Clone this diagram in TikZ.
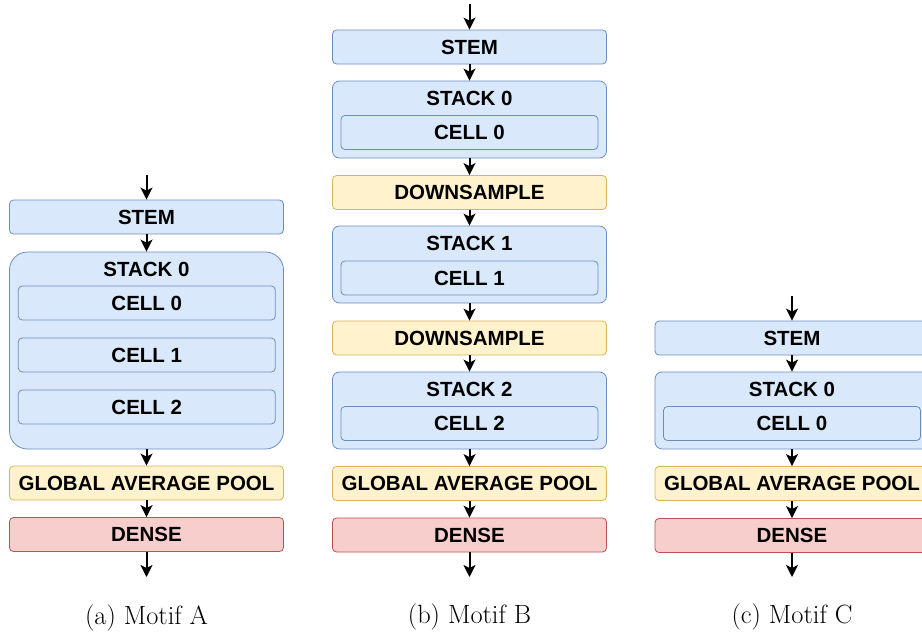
\documentclass[tikz,border=0pt]{standalone}
\usepackage{fontspec}
\newfontfamily\boxfont{Liberation Sans}
\usetikzlibrary{arrows.meta, positioning}
\definecolor{opblue}{HTML}{DAE8FC}
\definecolor{opblueline}{HTML}{6C8EBF}
\definecolor{opyellow}{HTML}{FFF2CC}
\definecolor{opyellowline}{HTML}{D6B656}
\definecolor{opred}{HTML}{F8CECC}
\definecolor{opredline}{HTML}{B85450}

\tikzset{
  layer/.style={rounded corners=4pt, line width=0.8pt, minimum width=274pt, minimum height=34pt, inner sep=0pt, font=\boxfont\bfseries\fontsize{20.5}{23}\selectfont},
  bluebox/.style={layer, draw=opblueline, fill=opblue},
  yellowbox/.style={layer, draw=opyellowline, fill=opyellow},
  redbox/.style={layer, draw=opredline, fill=opred},
  cellbox/.style={bluebox, minimum width=257pt},
  stackbox/.style={bluebox, minimum height=77pt, rounded corners=7pt},
  stacklabel/.style={inner sep=0pt, font=\boxfont\bfseries\fontsize{20.5}{23}\selectfont},
  flow/.style={-{Stealth[length=12pt, width=12pt, inset=3pt]}, line width=2pt},
  caption/.style={font=\fontsize{26.4}{30}\selectfont}
}

\begin{document}
\begin{tikzpicture}[x=1pt, y=-1pt]
  \useasboundingbox (0,0) rectangle (922,635);
  \clip (0,0) rectangle (922,635);

  % (a) Motif A
  \coordinate (a-in) at (146.5,175);
  \node[bluebox] (a-stem) at (146.5,217) {STEM};
  \node[stackbox, minimum height=197pt, rounded corners=18pt] (a-stack0) at (146.5,350.5) {};
  \node[stacklabel] (a-stack0-txt) at (146.5,269) {STACK 0};
  \node[cellbox] (a-cell0) at (146.8,303) {CELL 0};
  \node[cellbox] (a-cell1) at (146.8,355) {CELL 1};
  \node[cellbox] (a-cell2) at (146.8,407) {CELL 2};
  \node[yellowbox] (a-pool) at (146.5,483) {GLOBAL AVERAGE POOL};
  \node[redbox] (a-dense) at (146.5,534.5) {DENSE};
  \coordinate (a-out) at (146.5,577);
  \node[caption] (a-cap) at (146.5,618) {(a) Motif A};

  \draw[flow] (a-in) -- (a-stem.north);
  \draw[flow] (a-stem) -- (a-stack0.north);
  \draw[flow] (a-stack0) -- (a-pool.north);
  \draw[flow] (a-pool) -- (a-dense.north);
  \draw[flow] (a-dense) -- (a-out);

  % (b) Motif B
  \coordinate (b-in) at (469.5,4);
  \node[bluebox] (b-stem) at (469.5,47) {STEM};
  \node[stackbox] (b-stack0) at (469.5,119.5) {};
  \node[stacklabel] (b-stack0-txt) at (469.5,98) {STACK 0};
  \node[cellbox] (b-cell0) at (469.4,132.5) {CELL 0};
  \node[yellowbox] (b-down0) at (469.5,192.5) {DOWNSAMPLE};
  \node[stackbox] (b-stack1) at (469.5,264.5) {};
  \node[stacklabel] (b-stack1-txt) at (469.5,243) {STACK 1};
  \node[cellbox] (b-cell1) at (469.4,278) {CELL 1};
  \node[yellowbox] (b-down1) at (469.5,338) {DOWNSAMPLE};
  \node[stackbox] (b-stack2) at (469.5,410.5) {};
  \node[stacklabel] (b-stack2-txt) at (469.5,389) {STACK 2};
  \node[cellbox] (b-cell2) at (469.4,423.5) {CELL 2};
  \node[yellowbox] (b-pool) at (469.5,483.5) {GLOBAL AVERAGE POOL};
  \node[redbox] (b-dense) at (469.5,535) {DENSE};
  \coordinate (b-out) at (469.5,577);
  \node[caption] (b-cap) at (469.5,617) {(b) Motif B};

  \draw[flow] (b-in) -- (b-stem.north);
  \draw[flow] (b-stem) -- (b-stack0.north);
  \draw[flow] (b-stack0) -- (b-down0.north);
  \draw[flow] (b-down0) -- (b-stack1.north);
  \draw[flow] (b-stack1) -- (b-down1.north);
  \draw[flow] (b-down1) -- (b-stack2.north);
  \draw[flow] (b-stack2) -- (b-pool.north);
  \draw[flow] (b-pool) -- (b-dense.north);
  \draw[flow] (b-dense) -- (b-out);

  % (c) Motif C
  \coordinate (c-in) at (792,296);
  \node[bluebox] (c-stem) at (792,338) {STEM};
  \node[stackbox] (c-stack0) at (792,410.5) {};
  \node[stacklabel] (c-stack0-txt) at (792,389) {STACK 0};
  \node[cellbox] (c-cell0) at (792,423.5) {CELL 0};
  \node[yellowbox] (c-pool) at (792,483.5) {GLOBAL AVERAGE POOL};
  \node[redbox] (c-dense) at (792,535.5) {DENSE};
  \coordinate (c-out) at (792,577);
  \node[caption] (c-cap) at (792,617) {(c) Motif C};

  \draw[flow] (c-in) -- (c-stem.north);
  \draw[flow] (c-stem) -- (c-stack0.north);
  \draw[flow] (c-stack0) -- (c-pool.north);
  \draw[flow] (c-pool) -- (c-dense.north);
  \draw[flow] (c-dense) -- (c-out);
\end{tikzpicture}
\end{document}
